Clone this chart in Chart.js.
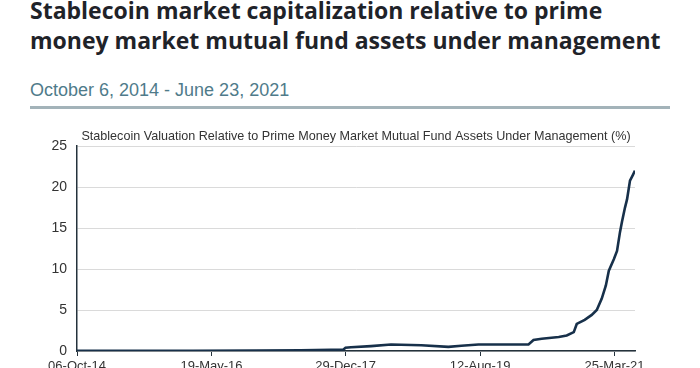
<!DOCTYPE html>
<html>
<head>
<meta charset="utf-8">
<script src="https://cdn.jsdelivr.net/npm/chart.js@4"></script>
<style>
  html, body { margin: 0; padding: 0; background: #fff; overflow: hidden; width: 700px; height: 368px; }
  #title {
    position: absolute; left: 30px; top: -5px; width: 670px;
    font-family: "Open Sans", sans-serif; font-weight: 700; font-size: 23px;
    line-height: 30px; color: #1f2329; white-space: nowrap;
  }
  #sub {
    position: absolute; left: 30px; top: 80px;
    font-family: "Liberation Sans", Arial, sans-serif; font-size: 18px; color: #4f7b8a;
  }
  #rule { position: absolute; left: 30px; top: 106px; width: 640px; height: 3px; background: #a3b3b9; }
  #wrap { position: absolute; left: 0; top: 122px; width: 700px; height: 262px; }
</style>
</head>
<body>
<div id="title">Stablecoin market capitalization relative to prime<br>money market mutual fund assets under management</div>
<div id="sub">October 6, 2014 - June 23, 2021</div>
<div id="rule"></div>
<div id="wrap"><canvas id="chart" width="700" height="262"></canvas></div>
<script>
const startDate = "2014-10-06";
const dates = [
  "2014-10-06", "2015-06-01", "2016-03-01", "2016-12-01", "2017-06-15", "2017-10-26",
  "2017-12-20", "2017-12-29", "2018-01-22", "2018-04-20", "2018-07-17", "2018-11-27",
  "2019-03-26", "2019-05-22", "2019-08-05", "2019-11-14", "2020-03-12", "2020-04-03",
  "2020-05-09", "2020-07-23", "2020-08-27", "2020-09-27", "2020-10-10", "2020-11-14",
  "2020-12-15", "2021-01-06", "2021-01-28", "2021-02-15", "2021-02-28", "2021-03-22",
  "2021-04-05", "2021-04-18", "2021-04-27", "2021-05-10", "2021-05-19", "2021-06-01",
  "2021-06-14", "2021-06-23"
];
const values = [
  0.02, 0.02, 0.02, 0.04, 0.1, 0.15,
  0.18, 0.4, 0.45, 0.6, 0.8, 0.7,
  0.5, 0.65, 0.8, 0.8, 0.8, 1.35,
  1.5, 1.7, 1.9, 2.3, 3.3, 3.8,
  4.4, 5.0, 6.4, 8.0, 9.8, 11.2,
  12.2, 14.5, 15.8, 17.5, 18.5, 20.8,
  21.5, 22.0
];
const tickDates = ["2014-10-06", "2016-05-19", "2017-12-29", "2019-08-12", "2021-03-25"];
const tickLabels = ["06-Oct-14", "19-May-16", "29-Dec-17", "12-Aug-19", "25-Mar-21"];
const yTicks = [0, 5, 10, 15, 20, 25];

function dayOf(s) {
  return Math.round((Date.parse(s) - Date.parse(startDate)) / 86400000);
}

const points = dates.map((d, i) => ({ x: dayOf(d), y: values[i] }));
const tickDays = tickDates.map(dayOf);

const axisColor = "#24323c";
const textColor = "#333";

new Chart(document.getElementById("chart"), {
  type: "line",
  data: {
    datasets: [{
      data: points,
      borderColor: "#17304a",
      borderWidth: 2.6,
      pointRadius: 0,
      tension: 0,
      fill: false
    }]
  },
  options: {
    responsive: false,
    animation: false,
    layout: { padding: { left: 0, right: 65, top: 0, bottom: 0 } },
    plugins: {
      legend: { display: false },
      tooltip: { enabled: false },
      title: {
        display: true,
        fullSize: false,
        text: "Stablecoin Valuation Relative to Prime Money Market Mutual Fund Assets Under Management (%)",
        color: textColor,
        font: { family: "Liberation Sans, Arial, sans-serif", size: 12.6, weight: "normal" },
        padding: { top: 7, bottom: 2 }
      }
    },
    scales: {
      x: {
        type: "linear",
        min: 0,
        max: dayOf(dates[dates.length - 1]),
        afterBuildTicks: s => { s.ticks = tickDays.map(v => ({ value: v })); },
        afterFit: s => { s.height = 33; },
        grid: { drawOnChartArea: false, drawTicks: true, tickLength: 5, color: axisColor },
        border: { display: true, color: axisColor, width: 1.5 },
        ticks: {
          autoSkip: false,
          maxRotation: 0,
          color: textColor,
          padding: 3,
          font: { family: "Liberation Sans, Arial, sans-serif", size: 13 },
          callback: v => tickLabels[tickDays.indexOf(v)]
        }
      },
      y: {
        min: 0,
        max: 25,
        afterBuildTicks: s => { s.ticks = yTicks.map(v => ({ value: v })); },
        afterFit: s => { s.width = 77; },
        grid: { color: "#dadada", drawTicks: false, lineWidth: 1 },
        border: { display: true, color: axisColor, width: 1.5 },
        ticks: {
          color: textColor,
          padding: 10,
          font: { family: "Liberation Sans, Arial, sans-serif", size: 14 }
        }
      }
    }
  }
});
</script>
</body>
</html>
